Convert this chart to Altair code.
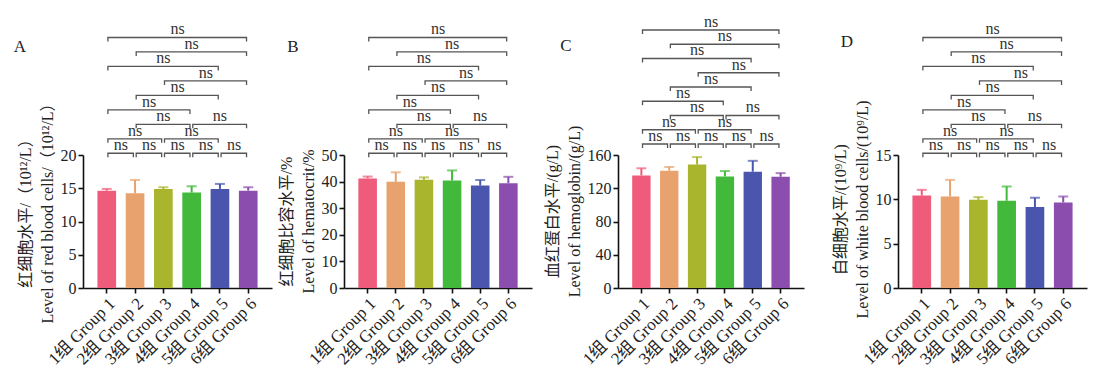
import altair as alt
import pandas as pd

FONT = "Liberation Serif, Noto Sans CJK SC"

groups = ["1组 Group 1", "2组 Group 2", "3组 Group 3", "4组 Group 4", "5组 Group 5", "6组 Group 6"]
colors = ["#EF5B7A", "#E8A26E", "#A9B52C", "#43B93C", "#4A56AD", "#8B4EAE"]

# Panel A: red blood cells (10^12/L)
rbc_mean = [14.64, 14.25, 14.90, 14.35, 14.90, 14.64]
rbc_sd = [0.26, 2.00, 0.25, 0.95, 0.75, 0.51]
# Panel B: hematocrit (%)
hct_mean = [41.2, 39.9, 40.7, 40.4, 38.5, 39.4]
hct_sd = [0.7, 3.6, 0.9, 3.8, 2.1, 2.4]
# Panel C: hemoglobin (g/L)
hgb_mean = [135.4, 141.2, 148.5, 134.2, 139.9, 133.8]
hgb_sd = [8.6, 4.4, 9.0, 6.5, 13.1, 4.4]
# Panel D: white blood cells (10^9/L)
wbc_mean = [10.43, 10.32, 9.95, 9.84, 9.13, 9.65]
wbc_sd = [0.64, 1.88, 0.30, 1.61, 1.05, 0.67]

# pairwise comparisons: group i vs group j, drawn on bracket row
cmp_i = [1, 2, 3, 4, 5, 1, 3, 2, 4, 1, 2, 3, 1, 2, 1]
cmp_j = [2, 3, 4, 5, 6, 3, 5, 4, 6, 4, 5, 6, 5, 6, 6]
cmp_row = [1, 1, 1, 1, 1, 2, 2, 3, 3, 4, 5, 6, 7, 8, 9]
cmp_label = ["ns"] * 15

panels = [
    dict(letter="A", mean=rbc_mean, sd=rbc_sd, ymax=20, ticks=[0, 5, 10, 15, 20],
         title=["红细胞水平/（10¹²/L）", "Level of red blood cells/（10¹²/L）"],
         width=189, rows=[-8.31, 0.88], titleY=54, lx=-63, ly=-108),
    dict(letter="B", mean=hct_mean, sd=hct_sd, ymax=50, ticks=[0, 10, 20, 30, 40, 50],
         title=["红细胞比容水平/%", "Level of hematocrit/%"],
         width=188, rows=[-8.31, 0.88], titleY=66, lx=-51, ly=-108),
    dict(letter="C", mean=hgb_mean, sd=hgb_sd, ymax=160, ticks=[0, 40, 80, 120, 160],
         title=["血红蛋白水平/(g/L)", "Level of hemoglobin/(g/L)"],
         width=186, rows=[-9.105, 0.228], titleY=56, lx=-52, ly=-109),
    dict(letter="D", mean=wbc_mean, sd=wbc_sd, ymax=15, ticks=[0, 5, 10, 15],
         title=["白细胞水平/(10⁹/L)", "Level of white blood cells/(10⁹/L)"],
         width=189, rows=[-8.31, 0.88], titleY=54, lx=-51, ly=-113),
]
gaps = [72, 86, 94]

H = 133
TICK = 0.28      # bracket end-tick length (rows)
GL, GR = 0.04, 0.06  # small gaps at bracket ends

# bracket path table
bp = []
for k, (i, j, r) in enumerate(zip(cmp_i, cmp_j, cmp_row)):
    a, b = i + GL, j - GR
    for s, (xx, yy) in enumerate([(a, r - TICK), (a, r), (b, r), (b, r - TICK)]):
        bp.append(dict(id=k, seq=s, bx=xx, by=yy))
bracket_df = pd.DataFrame(bp)
label_df = pd.DataFrame(dict(mx=[(i + j) / 2 for i, j in zip(cmp_i, cmp_j)],
                             row=cmp_row, lab=cmp_label))

xscale = alt.Scale(domain=groups, paddingInner=0.34, paddingOuter=0.51)
cscale = alt.Scale(domain=groups, range=colors)
xaxis = alt.Axis(title=None, labelAngle=-45, labelFontSize=17, tickSize=5, labelPadding=2)


def panel(p):
    df = pd.DataFrame(dict(group=groups, mean=p["mean"],
                           upper=[m + s for m, s in zip(p["mean"], p["sd"])]))
    base = alt.Chart(df)
    X = alt.X("group:N", sort=groups, scale=xscale, axis=xaxis)
    yscale = alt.Scale(domain=[0, p["ymax"]], nice=False, zero=True)
    yaxis = alt.Axis(values=p["ticks"], title=p["title"], titleY=p["titleY"],
                     titleLineHeight=22, titleFontSize=16, titlePadding=5,
                     labelFontSize=16, tickSize=5, labelPadding=2, labelOverlap=False)
    C = alt.Color("group:N", scale=cscale, legend=None)
    bars = base.mark_bar().encode(
        x=X, y=alt.Y("mean:Q", scale=yscale, axis=yaxis), color=C)
    errs = base.mark_rule(strokeWidth=2).encode(
        x=X, y=alt.Y("mean:Q", scale=yscale, axis=yaxis), y2="upper:Q", color=C)
    caps = base.mark_tick(size=10, thickness=2).encode(
        x=X, y=alt.Y("upper:Q", scale=yscale, axis=yaxis), color=C)
    data_layer = alt.layer(bars, errs, caps)

    bxs = alt.Scale(domain=[0.16, 6.84], nice=False, zero=False)
    bys = alt.Scale(domain=p["rows"], nice=False, zero=False)
    br = alt.Chart(bracket_df).mark_line(color="#555555", strokeWidth=1.3).encode(
        x=alt.X("bx:Q", scale=bxs, axis=None),
        y=alt.Y("by:Q", scale=bys, axis=None),
        detail="id:N", order="seq:Q")
    ns = alt.Chart(label_df).mark_text(fontSize=16, baseline="alphabetic", dy=-3,
                                       color="#333333").encode(
        x=alt.X("mx:Q", scale=bxs, axis=None),
        y=alt.Y("row:Q", scale=bys, axis=None),
        text="lab:N")
    let = alt.Chart(pd.DataFrame(dict(t=[p["letter"]]))).mark_text(
        fontSize=17, align="center", baseline="middle", color="#222222").encode(
        x=alt.value(p["lx"]), y=alt.value(p["ly"]), text="t:N")
    ann_layer = alt.layer(br, ns, let)
    return alt.layer(data_layer, ann_layer).resolve_scale(
        x="independent", y="independent").properties(width=p["width"], height=H)


def spacer(w):
    return alt.Chart(pd.DataFrame(dict(v=[0]))).mark_point(opacity=0).properties(
        width=w, height=H)


views = []
for k, p in enumerate(panels):
    views.append(panel(p))
    if k < len(gaps):
        views.append(spacer(gaps[k]))

chart = alt.hconcat(*views, spacing=0, bounds="flush").properties(
    padding={"left": 5, "top": 5, "right": 5, "bottom": 5}
).configure(font=FONT).configure_view(stroke=None).configure_axis(
    domainColor="#111111", domainWidth=1.6, tickColor="#111111", tickWidth=1.6,
    labelColor="#222222", titleColor="#222222", titleFontWeight="normal", grid=False)

chart.save("out.html", embed_options={"renderer": "svg", "actions": False})
